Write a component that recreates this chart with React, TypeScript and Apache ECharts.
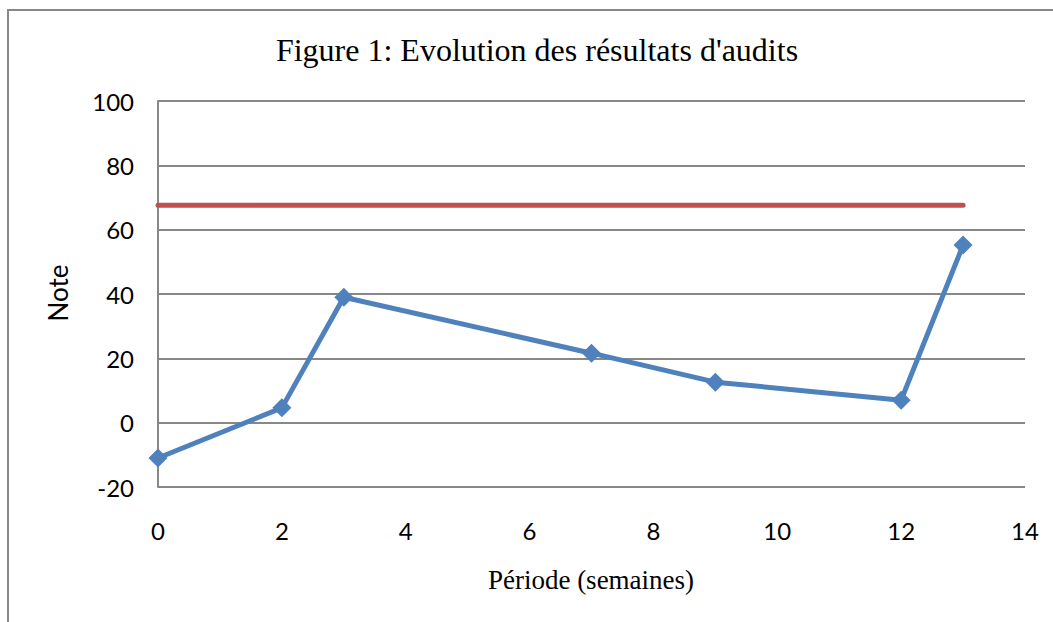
import React, { useEffect, useRef } from "react";
import * as echarts from "echarts";

const weeks = [0, 2, 3, 7, 9, 12, 13];
const scores = [-11, 4.6, 39, 21.6, 12.6, 7, 55.2];
const targetWeeks = [0, 13];
const targetValues = [67.6, 67.6];
const titleText = "Figure 1: Evolution des résultats d'audits";
const xName = "Période (semaines)";
const yName = "Note";

export default function App() {
  const ref = useRef<HTMLDivElement>(null);
  useEffect(() => {
    const chart = echarts.init(ref.current!, null, { renderer: "svg" });
    chart.setOption({
      animation: false,
      backgroundColor: "#ffffff",
      grid: { left: 158, top: 101, right: 28, bottom: 135 },
      xAxis: {
        type: "value",
        min: 0,
        max: 14,
        interval: 2,
        axisLine: { show: false },
        axisTick: { show: false },
        splitLine: { show: false },
        axisLabel: { fontFamily: "Lato", fontSize: 24, color: "#000", margin: 31 },
      },
      yAxis: {
        type: "value",
        min: -20,
        max: 100,
        interval: 20,
        axisLine: { show: true, onZero: false, lineStyle: { color: "#888", width: 2 } },
        axisTick: { show: false },
        splitLine: { show: true, lineStyle: { color: "#888", width: 2 } },
        axisLabel: { fontFamily: "Lato", fontSize: 24, color: "#000", margin: 24 },
      },
      graphic: [
        {
          type: "rect",
          shape: { x: 8, y: 10, width: 1100, height: 700 },
          style: { fill: "none", stroke: "#888", lineWidth: 2 },
          silent: true,
        },
        {
          type: "text",
          x: 537,
          y: 50,
          style: {
            text: titleText,
            fontFamily: "Liberation Serif",
            fontSize: 32,
            fill: "#000",
            align: "center",
            verticalAlign: "middle",
          },
        },
        {
          type: "text",
          x: 591,
          y: 580,
          style: {
            text: xName,
            fontFamily: "Liberation Serif",
            fontSize: 27,
            fill: "#000",
            align: "center",
            verticalAlign: "middle",
          },
        },
        {
          type: "text",
          x: 58,
          y: 293,
          rotation: Math.PI / 2,
          style: {
            text: yName,
            fontFamily: "Lato",
            fontSize: 26,
            fill: "#000",
            align: "center",
            verticalAlign: "middle",
          },
        },
      ],
      series: [
        {
          type: "line",
          data: targetWeeks.map((w, i) => [w, targetValues[i]]),
          showSymbol: false,
          symbol: "none",
          lineStyle: { color: "#C0504D", width: 5, cap: "round" },
          z: 3,
        },
        {
          type: "line",
          data: weeks.map((w, i) => [w, scores[i]]),
          symbol: "diamond",
          symbolSize: 19,
          itemStyle: { color: "#4F81BD" },
          lineStyle: { color: "#4F81BD", width: 5 },
          z: 4,
        },
      ],
    });
    return () => chart.dispose();
  }, []);
  return (
    <div
      ref={ref}
      style={{ position: "fixed", left: 0, top: 0, width: 1053, height: 622 }}
    />
  );
}
